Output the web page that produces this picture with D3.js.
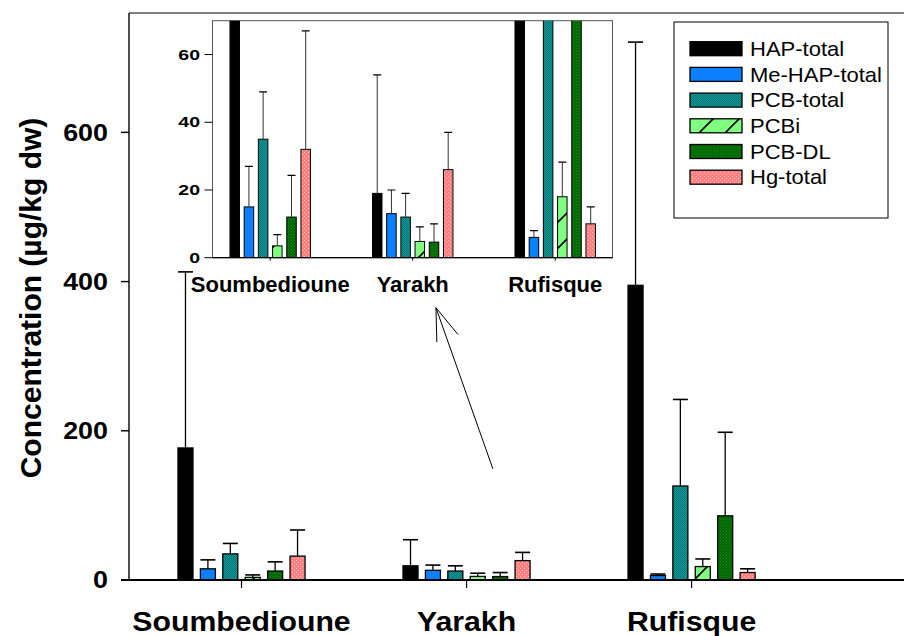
<!DOCTYPE html>
<html><head><meta charset="utf-8">
<script src="https://cdn.jsdelivr.net/npm/d3@7"></script>
<style>html,body{margin:0;padding:0;background:#fff;}svg{display:block;}</style>
</head><body><div id="chart"></div>
<script>
// ---------- data ----------
const categories = ["Soumbedioune", "Yarakh", "Rufisque"];
const seriesNames = ["HAP-total", "Me-HAP-total", "PCB-total", "PCBi", "PCB-DL", "Hg-total"];
const hapTotal    = [177, 19, 395];
const hapTotalErr = [413, 54, 721];
const meHapTotal    = [15, 13, 6];
const meHapTotalErr = [27, 20, 8];
const pcbTotal    = [35, 12, 126];
const pcbTotalErr = [49, 19, 242];
const pcbi    = [3.5, 4.8, 18];
const pcbiErr = [6.8, 9.1, 28.2];
const pcbDl    = [12, 4.6, 86];
const pcbDlErr = [24.3, 10, 198];
const hgTotal    = [32, 26, 10];
const hgTotalErr = [67, 37, 15];
const mainTicks  = [0, 200, 400, 600];
const insetTicks = [0, 20, 40, 60];
const yTitle = "Concentration (µg/kg dw)";

const values = [hapTotal, meHapTotal, pcbTotal, pcbi, pcbDl, hgTotal];
const errors = [hapTotalErr, meHapTotalErr, pcbTotalErr, pcbiErr, pcbDlErr, hgTotalErr];
const fills = ["#000000", "#0a80ff", "url(#pTeal)", "url(#pHatch)", "url(#pDkGreen)", "url(#pSalmon)"];
const rows = [];
categories.forEach((c, ci) => seriesNames.forEach((s, si) =>
  rows.push({cat: ci + 1, si, v: values[si][ci], e: errors[si][ci]})));

// ---------- setup ----------
const W = 904, H = 636;
const svg = d3.select("#chart").append("svg").attr("width", W).attr("height", H);
const defs = svg.append("defs");
function dotPattern(id, bg, dot, size) {
  const p = defs.append("pattern").attr("id", id).attr("patternUnits", "userSpaceOnUse")
    .attr("width", size).attr("height", size);
  p.append("rect").attr("width", size).attr("height", size).attr("fill", bg);
  p.append("rect").attr("x", 0).attr("y", 0).attr("width", 1).attr("height", 1).attr("fill", dot);
  p.append("rect").attr("x", size / 2).attr("y", size / 2).attr("width", 1).attr("height", 1).attr("fill", dot);
}
dotPattern("pTeal", "#139a9a", "#0a7474", 2);
dotPattern("pDkGreen", "#006600", "#1a8a1a", 3);
dotPattern("pSalmon", "#ff8080", "#ffc4c4", 4);
const ph = defs.append("pattern").attr("id", "pHatch").attr("patternUnits", "userSpaceOnUse")
  .attr("width", 26).attr("height", 26);
ph.append("rect").attr("width", 26).attr("height", 26).attr("fill", "#80ff80");
ph.append("path").attr("d", "M-2,28 L28,-2 M-15,15 L15,-15 M11,41 L41,11").attr("stroke", "#000").attr("stroke-width", 1.6);

const FONT = "Liberation Sans, Arial, Helvetica, sans-serif";
function stext(g, x, y, str, o) {
  return g.append("text")
    .attr("transform", `translate(${x},${y}) scale(${o.sx || 1},1)` + (o.rot ? ` rotate(${o.rot})` : ""))
    .attr("font-family", FONT).attr("font-size", o.size).attr("font-weight", o.bold ? "bold" : "normal")
    .attr("text-anchor", o.anchor || "start").attr("dominant-baseline", o.base || "auto")
    .attr("fill", "#000").text(str);
}

// ---------- main chart ----------
const x = d3.scaleLinear().domain([0.5, 3.944]).range([129, 904]);
const y = d3.scaleLinear().domain([0, 760]).range([580, 13]);
const barStep = 0.0996, barW = 0.0667;
const gMain = svg.append("g");

// bars
gMain.selectAll("rect.bar").data(rows).join("rect").attr("class", "bar")
  .attr("x", d => x(d.cat + (d.si - 2.5) * barStep - barW / 2))
  .attr("width", d => x(barW) - x(0))
  .attr("y", d => y(d.v)).attr("height", d => y(0) - y(d.v))
  .attr("fill", d => fills[d.si]).attr("stroke", "#000").attr("stroke-width", 1.3);
// error bars
gMain.selectAll("line.stem").data(rows).join("line").attr("class", "stem")
  .attr("x1", d => x(d.cat + (d.si - 2.5) * barStep)).attr("x2", d => x(d.cat + (d.si - 2.5) * barStep))
  .attr("y1", d => y(d.v)).attr("y2", d => y(d.e)).attr("stroke", "#000").attr("stroke-width", 1.3);
gMain.selectAll("line.cap").data(rows).join("line").attr("class", "cap")
  .attr("x1", d => x(d.cat + (d.si - 2.5) * barStep - barW / 2))
  .attr("x2", d => x(d.cat + (d.si - 2.5) * barStep + barW / 2))
  .attr("y1", d => y(d.e)).attr("y2", d => y(d.e)).attr("stroke", "#000").attr("stroke-width", 1.6);

// axes frame
gMain.append("line").attr("x1", x(0.5)).attr("x2", W).attr("y1", y(760)).attr("y2", y(760))
  .attr("stroke", "#000").attr("stroke-width", 1);
gMain.append("line").attr("x1", x(0.5)).attr("x2", x(0.5)).attr("y1", y(760)).attr("y2", y(0))
  .attr("stroke", "#000").attr("stroke-width", 1.4);
gMain.append("line").attr("x1", x(0.5) - 8).attr("x2", W).attr("y1", y(0)).attr("y2", y(0))
  .attr("stroke", "#000").attr("stroke-width", 2);
mainTicks.forEach(t => {
  gMain.append("line").attr("x1", x(0.5) - 8).attr("x2", x(0.5)).attr("y1", y(t)).attr("y2", y(t))
    .attr("stroke", "#000").attr("stroke-width", 1.4);
  stext(gMain, 108, y(t), String(t), {size: 24, bold: true, sx: 1.12, anchor: "end", base: "central"});
});
categories.forEach((c, i) => {
  gMain.append("line").attr("x1", x(i + 1)).attr("x2", x(i + 1)).attr("y1", y(0)).attr("y2", y(0) + 8)
    .attr("stroke", "#000").attr("stroke-width", 1.2);
  stext(gMain, x(i + 1), 631, c, {size: 27, bold: true, sx: 1.12, anchor: "middle"});
});
stext(gMain, 41, 298, yTitle, {size: 30, bold: true, anchor: "middle", rot: -90});

// arrow annotation (in data units)
const arrowTip = [1.864, 365], arrowEnd = [2.117, 149];
const barbs = [[1.962, 329], [1.868, 319]];
const line = d3.line().x(d => x(d[0])).y(d => y(d[1]));
gMain.append("path").attr("d", line([arrowEnd, arrowTip])).attr("stroke", "#000").attr("fill", "none").attr("stroke-width", 1);
barbs.forEach(b => gMain.append("path").attr("d", line([arrowTip, b])).attr("stroke", "#000").attr("fill", "none").attr("stroke-width", 1));

// ---------- inset ----------
const xi = d3.scaleLinear().domain([0.595, 3.402]).range([212.5, 612.5]);
const yi = d3.scaleLinear().domain([0, 70]).range([257.7, 20.7]);
const gIn = svg.append("g");
gIn.append("rect").attr("x", xi(0.595)).attr("y", yi(70)).attr("width", xi(3.402) - xi(0.595))
  .attr("height", yi(0) - yi(70)).attr("fill", "#fff").attr("stroke", "#555").attr("stroke-width", 1);
defs.append("clipPath").attr("id", "clipIn").append("rect")
  .attr("x", xi(0.595)).attr("y", yi(70)).attr("width", xi(3.402) - xi(0.595)).attr("height", yi(0) - yi(70));
const gInC = gIn.append("g").attr("clip-path", "url(#clipIn)");
gInC.selectAll("rect.bar").data(rows).join("rect").attr("class", "bar")
  .attr("x", d => xi(d.cat + (d.si - 2.5) * barStep - barW / 2))
  .attr("width", d => xi(barW) - xi(0))
  .attr("y", d => yi(d.v)).attr("height", d => yi(0) - yi(d.v))
  .attr("fill", d => fills[d.si]).attr("stroke", "#000").attr("stroke-width", 1);
const inRows = rows.filter(d => d.v < 70);
gInC.selectAll("line.stem").data(inRows).join("line")
  .attr("x1", d => xi(d.cat + (d.si - 2.5) * barStep)).attr("x2", d => xi(d.cat + (d.si - 2.5) * barStep))
  .attr("y1", d => yi(d.v)).attr("y2", d => yi(d.e)).attr("stroke", "#333").attr("stroke-width", 1);
gInC.selectAll("line.cap").data(inRows).join("line")
  .attr("x1", d => xi(d.cat + (d.si - 2.5) * barStep) - 4)
  .attr("x2", d => xi(d.cat + (d.si - 2.5) * barStep) + 4)
  .attr("y1", d => yi(d.e)).attr("y2", d => yi(d.e)).attr("stroke", "#000").attr("stroke-width", 1.2);
gIn.append("line").attr("x1", xi(0.595)).attr("x2", xi(3.402)).attr("y1", yi(0)).attr("y2", yi(0))
  .attr("stroke", "#000").attr("stroke-width", 1.2);
insetTicks.forEach(t => {
  gIn.append("line").attr("x1", xi(0.595) - 8).attr("x2", xi(0.595)).attr("y1", yi(t)).attr("y2", yi(t))
    .attr("stroke", "#000").attr("stroke-width", 1);
  stext(gIn, 200, yi(t), String(t), {size: 15, bold: true, sx: 1.3, anchor: "end", base: "central"});
});
categories.forEach((c, i) => {
  gIn.append("line").attr("x1", xi(i + 1)).attr("x2", xi(i + 1)).attr("y1", yi(0)).attr("y2", yi(0) + 3)
    .attr("stroke", "#000").attr("stroke-width", 1);
  stext(gIn, xi(i + 1), 292, c, {size: 22, bold: true, anchor: "middle"});
});

// ---------- legend ----------
const gLeg = svg.append("g");
gLeg.append("rect").attr("x", 674).attr("y", 22).attr("width", 214).attr("height", 196)
  .attr("fill", "#fff").attr("stroke", "#000").attr("stroke-width", 1);
seriesNames.forEach((s, i) => {
  const cy = 48.7 + i * 25.7;
  gLeg.append("rect").attr("x", 690).attr("y", cy - 7).attr("width", 52).attr("height", 14)
    .attr("fill", fills[i]).attr("stroke", "#000").attr("stroke-width", 1.3);
  stext(gLeg, 750, cy, s, {size: 20, sx: 1.1, base: "central"});
});
</script></body></html>
